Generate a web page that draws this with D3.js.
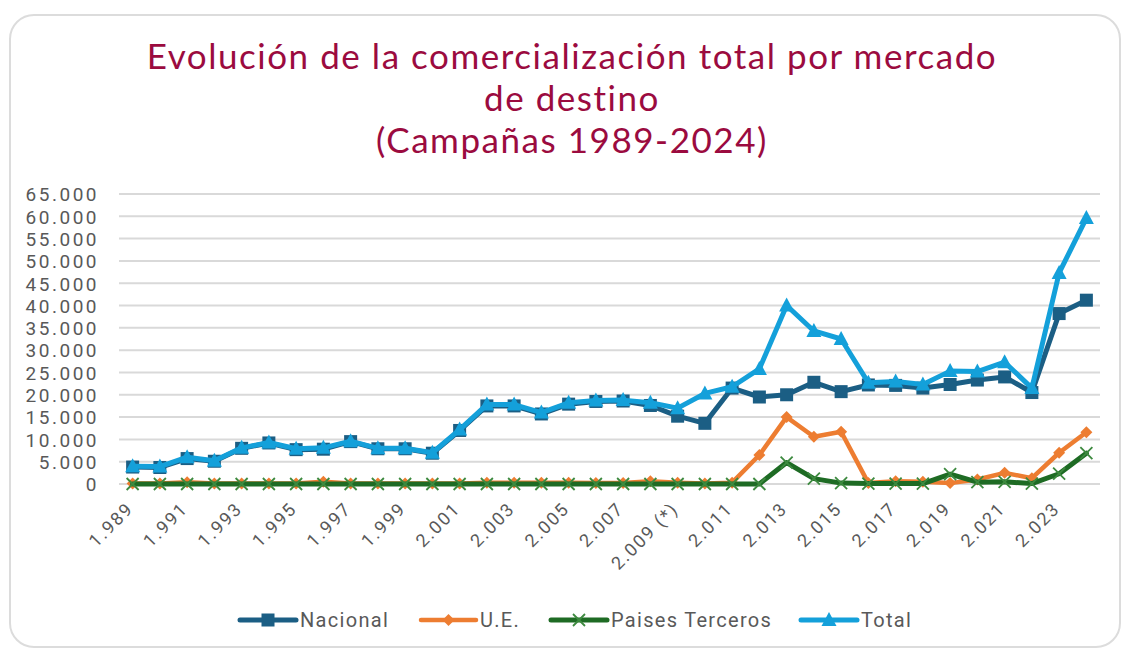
<!DOCTYPE html>
<html>
<head>
<meta charset="utf-8">
<title>Evolución de la comercialización total por mercado de destino</title>
<style>
  body {
    margin: 0;
    padding: 0;
    background: #ffffff;
    font-family: Roboto, 'Open Sans', sans-serif;
  }
  .card {
    fill: #ffffff;
    stroke: #dcdcdc;
    stroke-width: 2;
  }
  .title {
    fill: #9b0b3f;
    font-family: Lato, 'Open Sans', sans-serif;
    text-anchor: middle;
  }
  .grid line {
    stroke: #d9d9d9;
    stroke-width: 2;
  }
  .axis text, .legend text {
    fill: #595959;
    font-family: Roboto, sans-serif;
  }
  .series path.line {
    fill: none;
    stroke-linejoin: round;
    stroke-linecap: round;
  }
</style>
</head>
<body>
<div id="chart"></div>

<script src="https://cdn.jsdelivr.net/npm/d3@7"></script>
<script>

  // campaigns (x categories) and their axis labels
  var years = ["1989","1990","1991","1992","1993","1994","1995","1996","1997","1998",
               "1999","2000","2001","2002","2003","2004","2005","2006","2007","2008",
               "2009","2010","2011","2012","2013","2014","2015","2016","2017","2018",
               "2019","2020","2021","2022","2023","2024"]
  var yearLabels = ["1.989","1.990","1.991","1.992","1.993","1.994","1.995","1.996","1.997","1.998",
                    "1.999","2.000","2.001","2.002","2.003","2.004","2.005","2.006","2.007","2.008",
                    "2.009 (*)","2.010","2.011","2.012","2.013","2.014","2.015","2.016","2.017","2.018",
                    "2.019","2.020","2.021","2.022","2.023","2.024"]

  // series values
  var nacional = [3800, 3700, 5700, 5100, 8000, 9200, 7700, 7800, 9500, 7900,
                  7900, 6900, 12000, 17500, 17500, 15700, 17900, 18500, 18600, 17600,
                  15200, 13600, 21500, 19500, 20000, 22800, 20700, 22200, 22100, 21500,
                  22300, 23300, 24000, 20500, 38200, 41200]
  var ue = [100, 100, 400, 100, 100, 100, 100, 500, 100, 100,
            100, 100, 100, 300, 300, 300, 300, 200, 200, 600,
            300, 100, 300, 6500, 15000, 10600, 11700, 200, 600, 500,
            200, 1000, 2500, 1300, 7000, 11600]
  var terceros = [0, 0, 0, 0, 0, 0, 0, 0, 0, 0,
                  0, 0, 0, 0, 0, 0, 0, 0, 0, 0,
                  0, 0, 0, 0, 4800, 1200, 200, 100, 100, 100,
                  2200, 400, 500, 100, 2300, 6900]
  var total = [4000, 3900, 6000, 5200, 8100, 9300, 7900, 8100, 9600, 8000,
               8000, 7000, 12200, 17800, 17800, 16000, 18200, 18700, 18800, 18200,
               17000, 20300, 21800, 25800, 40000, 34300, 32500, 22700, 23000, 22300,
               25300, 25200, 27300, 21500, 47300, 59600]

  var yTicks = [0, 5000, 10000, 15000, 20000, 25000, 30000, 35000, 40000, 45000, 50000, 55000, 60000, 65000]

  var seriesNames = ["Nacional", "U.E.", "Paises Terceros", "Total"]
  var seriesColors = ["#1b5e84", "#ed7d31", "#1e6b24", "#14a0da"]
  var seriesMarkers = ["square", "diamond", "cross", "triangle"]

  var width = 1123,
      height = 650

  var svg = d3.select("#chart")
    .append("svg")
    .attr("width", width)
    .attr("height", height)

  // rounded card behind everything
  svg.append("rect")
    .attr("class", "card")
    .attr("x", 10)
    .attr("y", 15)
    .attr("width", 1110)
    .attr("height", 632)
    .attr("rx", 24)

  // title, three lines; letter spacing fitted so the first line spans the same width as the original
  var titleLines = ["Evolución de la comercialización total por mercado", "de destino", "(Campañas 1989-2024)"]
  var title = svg.append("g").attr("class", "title")
  var tl = title.selectAll("text")
    .data(titleLines)
    .enter().append("text")
    .attr("x", 572)
    .attr("y", function (d, i) { return 69 + i * 42 })
    .style("font-size", "35px")
    .text(function (d) { return d })
  var w0 = tl.node().getComputedTextLength()
  var ls = (849 - w0) / (titleLines[0].length - 1)
  tl.style("letter-spacing", ls + "px")

  var margin = {left: 119, right: 1100, top: 194, bottom: 484}

  var x = d3.scaleBand()
    .domain(years)
    .range([margin.left, margin.right])

  var y = d3.scaleLinear()
    .domain([0, 65000])
    .range([margin.bottom, margin.top])

  function cx(i) { return x(years[i]) + x.bandwidth() / 2 }

  var locale = d3.formatLocale({decimal: ",", thousands: ".", grouping: [3], currency: ["", "€"]})
  var fmt = locale.format(",d")

  // horizontal gridlines
  svg.append("g")
    .attr("class", "grid")
    .selectAll("line")
    .data(yTicks)
    .enter().append("line")
    .attr("x1", margin.left)
    .attr("x2", margin.right)
    .attr("y1", function (d) { return y(d) })
    .attr("y2", function (d) { return y(d) })

  // y axis labels
  var yAxis = svg.append("g")
    .attr("class", "axis")
    .attr("transform", "translate(" + 99 + ",0)")
    .call(d3.axisLeft(y).tickValues(yTicks).tickFormat(fmt).tickSize(0).tickPadding(0))
  yAxis.select(".domain").remove()
  yAxis.selectAll("text")
    .style("font-size", "19px")
    .style("letter-spacing", "2.5px")
    .attr("dy", "0.36em")

  // x axis labels, every other campaign, rotated
  var xAxis = svg.append("g")
    .attr("class", "axis")
  xAxis.selectAll("text")
    .data(years.filter(function (d, i) { return i % 2 === 0 }))
    .enter().append("text")
    .attr("transform", function (d) {
      var i = years.indexOf(d)
      return "translate(" + (cx(i) - 7) + "," + 501 + ") rotate(-45)"
    })
    .attr("text-anchor", "end")
    .attr("dy", "0.7em")
    .style("font-size", "18px")
    .style("letter-spacing", "1.8px")
    .text(function (d) { return yearLabels[years.indexOf(d)] })

  // marker shapes
  function marker(sel, type, color) {
    if (type === "square") {
      sel.append("rect")
        .attr("x", -6.5).attr("y", -6.5)
        .attr("width", 13).attr("height", 13)
        .attr("fill", color)
    } else if (type === "diamond") {
      sel.append("path")
        .attr("d", "M0,-6L6,0L0,6L-6,0Z")
        .attr("fill", color)
    } else if (type === "triangle") {
      sel.append("path")
        .attr("d", "M0,-8L7.5,6L-7.5,6Z")
        .attr("fill", color)
    } else if (type === "cross") {
      sel.append("path")
        .attr("d", "M-6,-6L6,6M-6,6L6,-6")
        .attr("stroke", "#3d8a3f")
        .attr("stroke-width", 1.8)
        .attr("fill", "none")
    }
  }

  var allSeries = [nacional, ue, terceros, total]
  var lineWidths = [5, 4.5, 5, 5]

  allSeries.forEach(function (values, s) {
    var line = d3.line()
      .x(function (d, i) { return cx(i) })
      .y(function (d) { return y(d) })

    var g = svg.append("g").attr("class", "series")

    g.append("path")
      .attr("class", "line")
      .attr("d", line(values))
      .attr("stroke", seriesColors[s])
      .attr("stroke-width", lineWidths[s])

    g.selectAll("g.pt")
      .data(values)
      .enter().append("g")
      .attr("class", "pt")
      .attr("transform", function (d, i) { return "translate(" + cx(i) + "," + y(d) + ")" })
      .each(function () { marker(d3.select(this), seriesMarkers[s], seriesColors[s]) })
  })

  // legend along the bottom
  var legendX = [240, 421, 551, 801]
  var legendLen = [56, 55, 56, 56]
  var legend = svg.append("g").attr("class", "legend")
  seriesNames.forEach(function (name, s) {
    var item = legend.append("g")
      .attr("transform", "translate(" + legendX[s] + ",620)")
    item.append("line")
      .attr("x1", 0).attr("x2", legendLen[s])
      .attr("stroke", seriesColors[s])
      .attr("stroke-width", lineWidths[s])
      .attr("stroke-linecap", "round")
    marker(item.append("g").attr("transform", "translate(" + legendLen[s] / 2 + ",0)"), seriesMarkers[s], seriesColors[s])
    item.append("text")
      .attr("x", legendLen[s] + 4)
      .attr("y", 6.5)
      .style("font-size", "20px")
      .style("letter-spacing", "1.3px")
      .text(name)
  })

</script>
</body>
</html>
